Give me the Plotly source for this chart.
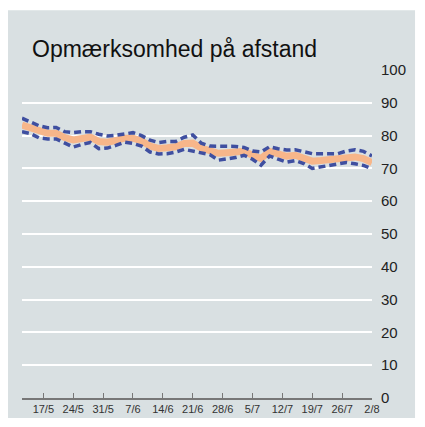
import plotly.graph_objects as go
import pandas as pd

dates = pd.date_range("2021-05-12", "2021-08-02", freq="2D")
center = [83.2, 82.4, 81.2, 80.7, 80.7, 79.4, 78.7, 79.2, 79.5, 78.2, 78.0, 78.5, 79.2, 79.2,
          78.4, 76.8, 76.1, 76.3, 76.6, 77.6, 77.7, 76.2, 75.5, 74.6, 74.8, 75.0, 75.2, 74.0,
          73.0, 75.2, 74.4, 73.7, 74.0, 73.3, 72.2, 72.4, 72.7, 72.9, 73.5, 73.5, 73.0, 71.8]
upper = [85.3, 84.2, 83.0, 82.4, 82.5, 81.2, 80.9, 81.2, 81.2, 80.4, 79.9, 80.1, 80.5, 80.9,
         80.0, 78.6, 77.9, 78.2, 78.2, 79.5, 80.2, 77.7, 76.8, 76.8, 76.9, 76.7, 76.4, 75.3,
         75.0, 76.6, 76.0, 75.6, 75.7, 75.2, 74.5, 74.5, 74.5, 74.5, 75.3, 75.7, 75.2, 73.8]
lower = [81.2, 80.6, 79.3, 79.0, 79.0, 77.6, 76.5, 77.3, 77.9, 76.0, 76.2, 77.0, 78.0, 77.6,
         76.8, 75.0, 74.4, 74.5, 75.0, 75.8, 75.2, 74.8, 74.2, 72.5, 72.8, 73.3, 74.0, 72.8,
         71.0, 73.8, 72.8, 71.9, 72.4, 71.5, 70.0, 70.4, 71.0, 71.4, 71.8, 71.4, 70.9, 69.9]

tick_vals = pd.date_range("2021-05-17", "2021-08-02", freq="7D")
tick_text = ["17/5", "24/5", "31/5", "7/6", "14/6", "21/6", "28/6", "5/7", "12/7", "19/7", "26/7", "2/8"]
y_ticks = [0, 10, 20, 30, 40, 50, 60, 70, 80, 90, 100]

fig = go.Figure()
fig.add_trace(go.Scatter(x=dates, y=center, mode="lines",
                         line=dict(color="#f7b68a", width=7), hoverinfo="skip"))
fig.add_trace(go.Scatter(x=dates, y=upper, mode="lines",
                         line=dict(color="#3f4fa0", width=3.5, dash="7px,4px")))
fig.add_trace(go.Scatter(x=dates, y=lower, mode="lines",
                         line=dict(color="#3f4fa0", width=3.5, dash="7px,4px")))

fig.update_layout(
    width=417, height=419,
    margin=dict(l=14, r=53, t=62, b=27),
    paper_bgcolor="white",
    plot_bgcolor="rgba(0,0,0,0)",
    showlegend=False,
    font=dict(family="Liberation Sans, Arial, sans-serif"),
    shapes=[dict(type="rect", xref="paper", yref="paper",
                 x0=-0.043, x1=1.123, y0=-0.061, y1=1.182,
                 fillcolor="#d9e0e2", line=dict(width=0), layer="below")],
    annotations=[dict(text="Opmærksomhed på afstand", xref="paper", yref="paper",
                      x=0.023, y=1.063, xanchor="left", yanchor="middle", showarrow=False,
                      font=dict(size=23, color="#111111"))],
)
fig.update_xaxes(
    range=[pd.Timestamp("2021-05-12"), pd.Timestamp("2021-08-02")],
    tickvals=tick_vals, ticktext=tick_text,
    ticks="inside", ticklen=5, tickcolor="#777777", tickwidth=1,
    showline=True, linecolor="#777777", linewidth=2,
    showgrid=False, zeroline=False,
    tickfont=dict(size=11, color="#333333"),
)
fig.update_yaxes(
    range=[0, 100], tickvals=y_ticks, side="right",
    showgrid=True, gridcolor="white", gridwidth=2,
    zeroline=False, showline=False, ticks="",
    ticklabelstandoff=8,
    tickfont=dict(size=15, color="#222222"),
)
fig.write_html("out.html")
